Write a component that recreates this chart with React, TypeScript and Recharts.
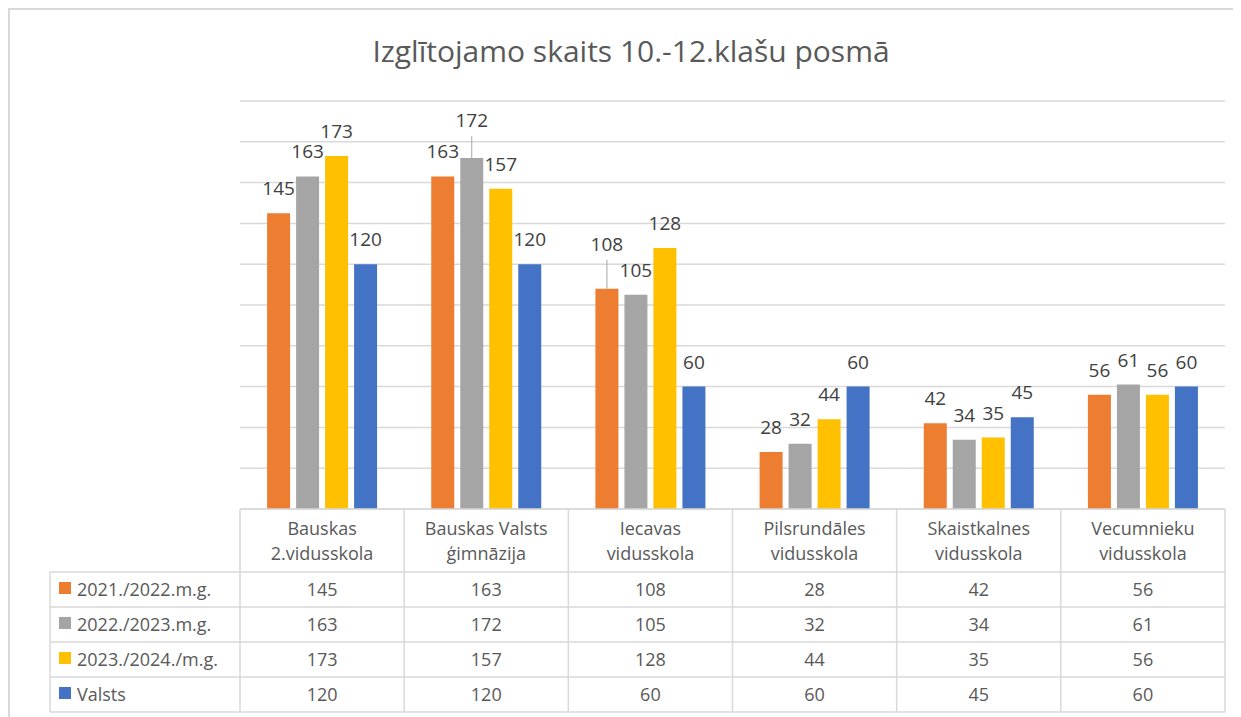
import React from "react";
import { Bar, BarChart, CartesianGrid, LabelList, XAxis, YAxis } from "recharts";

const CATEGORIES = [
  ["Bauskas", "2.vidusskola"],
  ["Bauskas Valsts", "ģimnāzija"],
  ["Iecavas", "vidusskola"],
  ["Pilsrundāles", "vidusskola"],
  ["Skaistkalnes", "vidusskola"],
  ["Vecumnieku", "vidusskola"],
];

const SERIES_NAMES = ["2021./2022.m.g.", "2022./2023.m.g.", "2023./2024./m.g.", "Valsts"];
const SERIES_KEYS = ["y2122", "y2223", "y2324", "valsts"];
const SERIES_COLORS = ["#ED7D31", "#A5A5A5", "#FFC000", "#4472C4"];

const Y2122 = [145, 163, 108, 28, 42, 56];
const Y2223 = [163, 172, 105, 32, 34, 61];
const Y2324 = [173, 157, 128, 44, 35, 56];
const VALSTS = [120, 120, 60, 60, 45, 60];
const SERIES_VALUES = [Y2122, Y2223, Y2324, VALSTS];

const Y_TICKS = [0, 20, 40, 60, 80, 100, 120, 140, 160, 180, 200];

const data = CATEGORIES.map((c, i) => ({
  name: c.join(" "),
  y2122: Y2122[i],
  y2223: Y2223[i],
  y2324: Y2324[i],
  valsts: VALSTS[i],
}));

const W = 1233;
const H = 709;
const MARGIN = { top: 93, right: 16, bottom: 5, left: 232 };
const AXIS_H = 203;
const PLOT_LEFT = MARGIN.left;
const PLOT_RIGHT = W - MARGIN.right;
const PLOT_BOTTOM = H - MARGIN.bottom - AXIS_H;
const BAND = (PLOT_RIGHT - PLOT_LEFT) / CATEGORIES.length;

const TABLE_LEFT = 42;
const ROW_TOP = 564;
const ROW_H = 35;
const GRID = "#d9d9d9";
const TEXT = "#595959";
const FONT = "'Open Sans', sans-serif";

// labels Excel nudged upwards (with a leader line)
const LABEL_RAISE: Record<string, number> = { "1-1": 13, "0-2": 20 };

function makeLabel(series: number) {
  return (props: any) => {
    const { x, y, width, value, index } = props;
    const cx = x + width / 2;
    const raise = LABEL_RAISE[`${series}-${index}`] ?? 0;
    const base = y - 18 - raise;
    return (
      <g>
        {raise > 0 && <line x1={cx} x2={cx} y1={y} y2={base + 9} stroke="#a6a6a6" strokeWidth={1} />}
        <text x={cx} y={base} textAnchor="middle" fontSize={19} fill="#404040" fontFamily={FONT}>
          {value}
        </text>
      </g>
    );
  };
}

function TableColumn(props: any) {
  const { x, payload } = props;
  const i = payload.index;
  const left = x - BAND / 2;
  return (
    <g fontFamily={FONT} fontSize={18} fill={TEXT}>
      <line x1={left} x2={left} y1={PLOT_BOTTOM} y2={ROW_TOP + ROW_H * 4} stroke={GRID} strokeWidth={1.5} />
      {i === CATEGORIES.length - 1 && (
        <line x1={left + BAND} x2={left + BAND} y1={PLOT_BOTTOM} y2={ROW_TOP + ROW_H * 4} stroke={GRID} strokeWidth={1.5} />
      )}
      <text x={x} y={527} textAnchor="middle">{CATEGORIES[i][0]}</text>
      <text x={x} y={552} textAnchor="middle">{CATEGORIES[i][1]}</text>
      {SERIES_VALUES.map((vals, r) => (
        <text key={r} x={x} y={ROW_TOP + ROW_H * r + 24} textAnchor="middle">
          {vals[i]}
        </text>
      ))}
    </g>
  );
}

const NoTick = () => <g />;

export default function App() {
  return (
    <div style={{ position: "relative", width: W, height: H }}>
      <BarChart width={W} height={H} data={data} margin={MARGIN} barCategoryGap="16.5%" barGap={6}>
        <CartesianGrid vertical={false} stroke={GRID} strokeWidth={1.5} />
        <YAxis width={0} domain={[0, 200]} ticks={Y_TICKS} tick={<NoTick />} axisLine={false} tickLine={false} />
        <XAxis
          dataKey="name"
          height={AXIS_H}
          interval={0}
          tickLine={false}
          axisLine={{ stroke: GRID, strokeWidth: 1.5 }}
          tick={<TableColumn />}
        />
        {SERIES_KEYS.map((k, s) => (
          <Bar key={k} dataKey={k} name={SERIES_NAMES[s]} fill={SERIES_COLORS[s]} isAnimationActive={false}>
            <LabelList dataKey={k} content={makeLabel(s)} />
          </Bar>
        ))}
      </BarChart>
      <svg width={W} height={H} style={{ position: "absolute", left: 0, top: 0, pointerEvents: "none" }}>
        <line x1={0} x2={W} y1={1} y2={1} stroke={GRID} strokeWidth={2} />
        <line x1={1} x2={1} y1={0} y2={H} stroke={GRID} strokeWidth={2} />
        <text x={623} y={54} textAnchor="middle" fontSize={30} fill={TEXT} fontFamily={FONT}>
          Izglītojamo skaits 10.-12.klašu posmā
        </text>
        {SERIES_NAMES.map((n, r) => (
          <line key={"h" + r} x1={TABLE_LEFT} x2={PLOT_RIGHT} y1={ROW_TOP + ROW_H * r} y2={ROW_TOP + ROW_H * r} stroke={GRID} strokeWidth={1.5} />
        ))}
        <line x1={TABLE_LEFT} x2={PLOT_RIGHT} y1={ROW_TOP + ROW_H * 4} y2={ROW_TOP + ROW_H * 4} stroke={GRID} strokeWidth={1.5} />
        <line x1={TABLE_LEFT} x2={TABLE_LEFT} y1={ROW_TOP} y2={ROW_TOP + ROW_H * 4} stroke={GRID} strokeWidth={1.5} />
        {SERIES_NAMES.map((n, r) => {
          const base = ROW_TOP + ROW_H * r + 24;
          return (
            <g key={n}>
              <rect x={51} y={base - 14} width={12} height={12} fill={SERIES_COLORS[r]} />
              <text x={69} y={base} fontSize={18} fill={TEXT} fontFamily={FONT}>
                {n}
              </text>
            </g>
          );
        })}
      </svg>
    </div>
  );
}
